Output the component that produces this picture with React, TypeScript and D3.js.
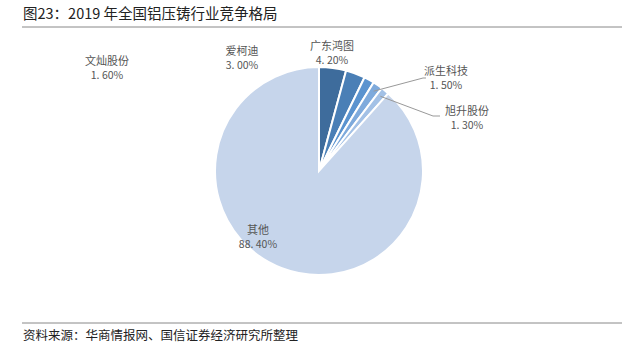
import React from "react";
import * as d3 from "d3";

const companies = ["广东鸿图", "爱柯迪", "文灿股份", "派生科技", "旭升股份", "其他"];
const shares = [4.2, 3.0, 1.6, 1.5, 1.3, 88.4];
const colors = ["#3E6C9C", "#4A7FB6", "#5A93CF", "#7EAADC", "#A3C1E6", "#C6D5EB"];
// label anchor positions (manually placed in the source)
const labelPos: [number, number][] = [
  [332, 50],
  [242, 55],
  [107, 65],
  [446, 75],
  [467, 115],
  [258, 234],
];

const W = 632, H = 357;
const cx = 319, cy = 171, R = 104;
const fontCJK = '"Noto Sans CJK SC", "Noto Sans", sans-serif';

export default function App() {
  const pie = d3.pie<number>().value((d) => d).sort(null);
  const arcs = pie(shares);
  const arc = d3.arc<d3.PieArcDatum<number>>().innerRadius(0).outerRadius(R);
  const pt = (a: d3.PieArcDatum<number>, r: number): [number, number] => {
    const m = (a.startAngle + a.endAngle) / 2;
    return [cx + Math.sin(m) * r, cy - Math.cos(m) * r];
  };
  const p3 = pt(arcs[3], R * 0.93);
  const p4 = pt(arcs[4], R * 0.93);
  return (
    <svg width={W} height={H} style={{ position: "absolute", left: 0, top: 0, background: "#fff" }}>
      <text x={23} y={19} fontSize={14.5} fontFamily={fontCJK} fill="#222">
        图23：2019 年全国铝压铸行业竞争格局
      </text>
      <line x1={22} x2={622} y1={27} y2={27} stroke="#888" strokeWidth={1} />
      <g transform={`translate(${cx},${cy})`}>
        {arcs.map((a, i) => (
          <path key={i} d={arc(a) || ""} fill={colors[i]} stroke="#fff" strokeWidth={2} />
        ))}
      </g>
      <polyline
        points={`${p3[0]},${p3[1]} 423,78 426,78`}
        fill="none"
        stroke="#999"
        strokeWidth={1}
      />
      <polyline
        points={`${p4[0]},${p4[1]} 433,116 440,116`}
        fill="none"
        stroke="#999"
        strokeWidth={1}
      />
      {companies.map((c, i) => (
        <g key={c} fontFamily={fontCJK} fontSize={11} fill="#555" textAnchor="middle">
          <text x={labelPos[i][0]} y={labelPos[i][1]}>{c}</text>
          <text x={labelPos[i][0]} y={labelPos[i][1] + 14} fontSize={10.5}>
            {shares[i].toFixed(2).replace(".", ". ")}%
          </text>
        </g>
      ))}
      <line x1={22} x2={622} y1={323} y2={323} stroke="#888" strokeWidth={1} />
      <text x={23} y={340} fontSize={12.5} fontFamily={fontCJK} fill="#222">
        资料来源：华商情报网、国信证券经济研究所整理
      </text>
    </svg>
  );
}
